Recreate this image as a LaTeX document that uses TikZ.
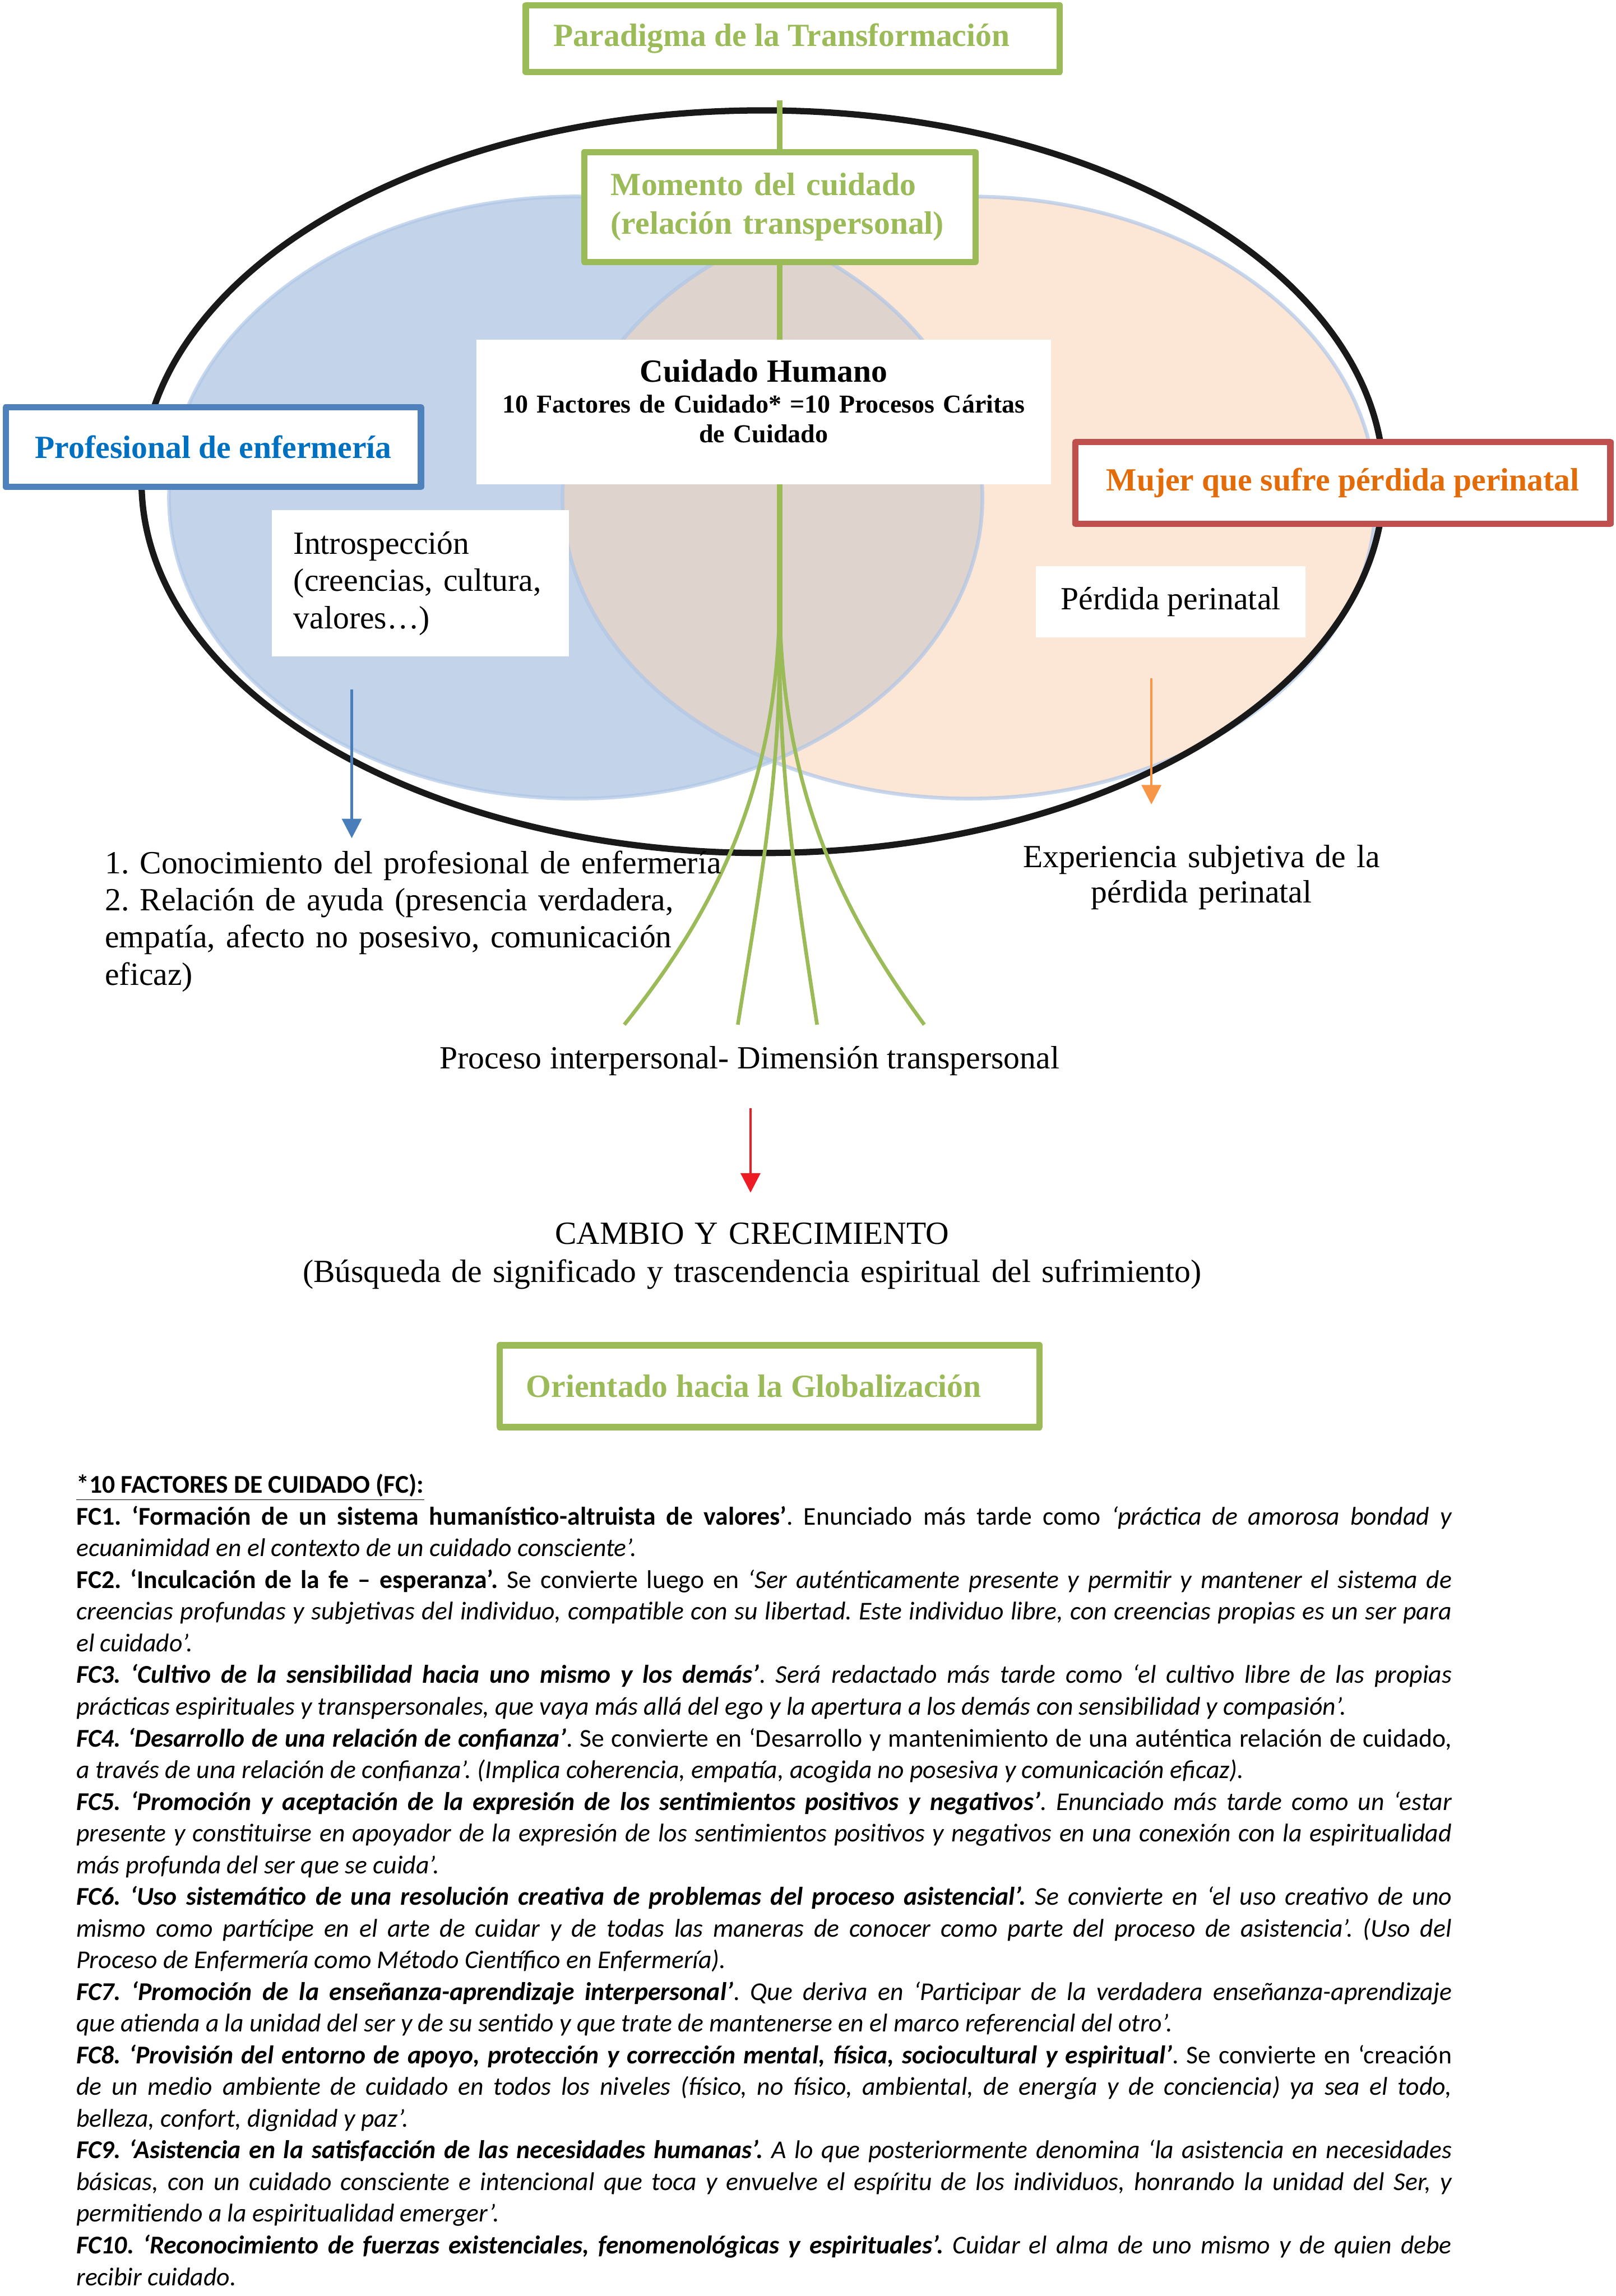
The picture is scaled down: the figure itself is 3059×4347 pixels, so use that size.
\documentclass[tikz,border=0pt]{standalone}
\usepackage{fontspec}
\setmainfont{Liberation Serif}
\newfontfamily\calibrifont{Carlito}
\usetikzlibrary{arrows.meta}
\definecolor{leaf}{HTML}{9BBB59}
\definecolor{boxblue}{HTML}{4F81BD}
\definecolor{textblue}{HTML}{0070C0}
\definecolor{boxred}{HTML}{C0504D}
\definecolor{textorange}{HTML}{E36C09}
\definecolor{nursefill}{HTML}{C3D4EA}
\definecolor{womanfill}{HTML}{FCE7D6}
\definecolor{sharefill}{HTML}{DFD3CD}
\definecolor{edgeblue}{HTML}{AFC6E6}
\definecolor{arrowblue}{HTML}{4A7EBB}
\definecolor{arroworange}{HTML}{F79646}
\definecolor{arrowred}{HTML}{ED1C24}
\newcommand\hdfont{\fontsize{17.4}{20.9}\selectfont}
\newcommand\subfont{\fontsize{13.9}{15.9}\selectfont}
\newcommand\fcfont{\calibrifont\fontsize{13.8}{17.07}\selectfont\tolerance=10000\hyphenpenalty=10000\exhyphenpenalty=10000\parskip=0pt}
\frenchspacing

\begin{document}
\begin{tikzpicture}[x=0.1mm,y=-0.1mm,line join=round,
 frame/.style={draw=#1,line width=3.4pt,fill=white,inner sep=0pt},
 plain/.style={fill=white,inner sep=0pt},
 txt/.style={inner sep=0pt,font=\hdfont},
 branch/.style={leaf,line width=2pt},
 fall/.style={draw=#1,line width=1.4pt,-{Triangle[length=10.5pt,width=10.5pt]}}]
\useasboundingbox (0,0) rectangle (3059,4347);
\fill[nursefill] (1090,942) ellipse (770 and 570);
\fill[womanfill] (1835,942) ellipse (770 and 570);
\begin{scope}
 \clip (1090,942) ellipse (770 and 570);
 \fill[sharefill] (1835,942) ellipse (770 and 570);
\end{scope}
\draw[edgeblue,line width=2pt,opacity=.7] (1090,942) ellipse (770 and 570) (1835,942) ellipse (770 and 570);
\draw[black!90,line width=3.4pt] (1444,912) ellipse (1176 and 703);
\coordinate (stemtop) at (1476,190); \coordinate (fork) at (1476,1250);
\draw[leaf,line width=3.1pt] (stemtop)--(fork);
\foreach \sy/\cax/\cbx/\ex [count=\i] in {1150/1470/1350/1182,1250/1474/1430/1397,1250/1478/1515/1547,1150/1482/1595/1750}
 \draw[branch] (1476,\sy) .. controls (\cax,1500) and (\cbx,1730) .. (\ex,1940) coordinate (root\i);

\node[frame=leaf,minimum width=101.1mm,minimum height=12.6mm,text=leaf,font=\hdfont\bfseries] (paradigma) at (1501,73) {Paradigma de la Transformación\hspace*{4.2mm}};
\node[frame=leaf,minimum width=74.1mm,minimum height=20.8mm,text=leaf,text width=64mm,align=left,font={\fontsize{17.4}{20.8}\selectfont\bfseries}] (momento) at (1476.5,392) {Momento del cuidado\\(relación transpersonal)};
\node[plain,minimum width=108.8mm,minimum height=27.4mm] (cuidado) at (1446,780) {};
\node[txt,anchor=base,text width=104mm,align=center,font=\subfont\bfseries] (cuidadotxt) at (1446,723) {{\hdfont Cuidado Humano}\\[0.9pt]10 Factores de Cuidado* =10 Procesos Cáritas\\de Cuidado};
\node[frame=boxblue,minimum width=78.6mm,minimum height=15.1mm,text=textblue,font=\hdfont\bfseries] (nurse) at (404,846.5) {Profesional de enfermería};
\node[plain,minimum width=56.2mm,minimum height=27.7mm,text width=48mm,align=left,font={\fontsize{17.4}{20.1}\selectfont}] (intro) at (796,1104.5) {Introspección\\(creencias, cultura,\\valores…)};
\node[frame=boxred,minimum width=101.3mm,minimum height=15.5mm,text=textorange,font=\hdfont\bfseries] (woman) at (2542.5,914.5) {Mujer que sufre pérdida perinatal};
\node[plain,minimum width=51.1mm,minimum height=13.5mm,font=\hdfont] (loss) at (2216.5,1139.5) {Pérdida perinatal};

\node[txt,anchor=base west,text width=125mm,align=left,font={\fontsize{17.4}{20}\selectfont}] (knowledge) at (198,1654) {1. Conocimiento del profesional de enfermería\\2. Relación de ayuda (presencia verdadera,\\empatía, afecto no posesivo, comunicación\\eficaz)};
\node[txt,anchor=base,text width=70mm,align=center,font={\fontsize{17.4}{19.1}\selectfont}] (experience) at (2275,1642) {Experiencia subjetiva de la\\pérdida perinatal};
\node[txt,anchor=base] (process) at (1419,2023) {Proceso interpersonal- Dimensión transpersonal};
\node[txt,anchor=base,text width=180mm,align=center,font={\fontsize{17.4}{20.5}\selectfont}] (change) at (1424,2356) {CAMBIO Y CRECIMIENTO\\(Búsqueda de significado y trascendencia espiritual del sufrimiento)};
\node[frame=leaf,minimum width=102.2mm,minimum height=15.5mm,text=leaf,font=\hdfont\bfseries] (global) at (1457,2624.5) {Orientado hacia la Globalización\hspace*{6mm}};

\coordinate (nursefoot) at (666,1305); \coordinate (knowtip) at (666,1587);
\coordinate (lossfoot) at (2180,1284); \coordinate (exptip) at (2180,1523);
\coordinate (procfoot) at (1421,2098); \coordinate (changetip) at (1421,2258);
\draw[fall=arrowblue] (nursefoot)--(knowtip);
\draw[fall=arroworange] (lossfoot)--(exptip);
\draw[fall=arrowred] (procfoot)--(changetip);

\node[txt,anchor=base west,text width=260.4mm,align=justify,font=\fcfont] (factors) at (144,2827) {%
\underline{\textbf{*10 FACTORES DE CUIDADO (FC):}}\par
\textbf{FC1. ‘Formación de un sistema humanístico-altruista de valores’}. Enunciado más tarde como \textit{‘práctica de amorosa bondad y\linebreak ecuanimidad en el contexto de un cuidado consciente’.}\par
\textbf{FC2. ‘Inculcación de la fe – esperanza’.} Se convierte luego en \textit{‘Ser auténticamente presente y permitir y mantener el sistema de\linebreak creencias profundas y subjetivas del individuo, compatible con su libertad. Este individuo libre, con creencias propias es un ser para\linebreak el cuidado’.}\par
\textbf{\textit{FC3. ‘Cultivo de la sensibilidad hacia uno mismo y los demás’}}. \textit{Será redactado más tarde como ‘el cultivo libre de las propias\linebreak prácticas espirituales y transpersonales, que vaya más allá del ego y la apertura a los demás con sensibilidad y compasión’.}\par
\textbf{\textit{FC4. ‘Desarrollo de una relación de confianza’}}. Se convierte en ‘Desarrollo y mantenimiento de una auténtica relación de cuidado,\linebreak \textit{a través de una relación de confianza’. (Implica coherencia, empatía, acogida no posesiva y comunicación eficaz).}\par
\textbf{\textit{FC5. ‘Promoción y aceptación de la expresión de los sentimientos positivos y negativos’}}. \textit{Enunciado más tarde como un ‘estar\linebreak presente y constituirse en apoyador de la expresión de los sentimientos positivos y negativos en una conexión con la espiritualidad\linebreak más profunda del ser que se cuida’.}\par
\textbf{\textit{FC6. ‘Uso sistemático de una resolución creativa de problemas del proceso asistencial’.}} \textit{Se convierte en ‘el uso creativo de uno\linebreak mismo como partícipe en el arte de cuidar y de todas las maneras de conocer como parte del proceso de asistencia’. (Uso del\linebreak Proceso de Enfermería como Método Científico en Enfermería).}\par
\textbf{\textit{FC7. ‘Promoción de la enseñanza-aprendizaje interpersonal’}}. \textit{Que deriva en ‘Participar de la verdadera enseñanza-aprendizaje\linebreak que atienda a la unidad del ser y de su sentido y que trate de mantenerse en el marco referencial del otro’.}\par
\textbf{\textit{FC8. ‘Provisión del entorno de apoyo, protección y corrección mental, física, sociocultural y espiritual’}}. Se convierte en ‘creación\linebreak \textit{de un medio ambiente de cuidado en todos los niveles (físico, no físico, ambiental, de energía y de conciencia) ya sea el todo,\linebreak belleza, confort, dignidad y paz’.}\par
\textbf{\textit{FC9. ‘Asistencia en la satisfacción de las necesidades humanas’.}} \textit{A lo que posteriormente denomina ‘la asistencia en necesidades\linebreak básicas, con un cuidado consciente e intencional que toca y envuelve el espíritu de los individuos, honrando la unidad del Ser, y\linebreak permitiendo a la espiritualidad emerger’.}\par
\textbf{\textit{FC10. ‘Reconocimiento de fuerzas existenciales, fenomenológicas y espirituales’.}} \textit{Cuidar el alma de uno mismo y de quien debe\linebreak recibir cuidado.}};
\end{tikzpicture}
\end{document}
